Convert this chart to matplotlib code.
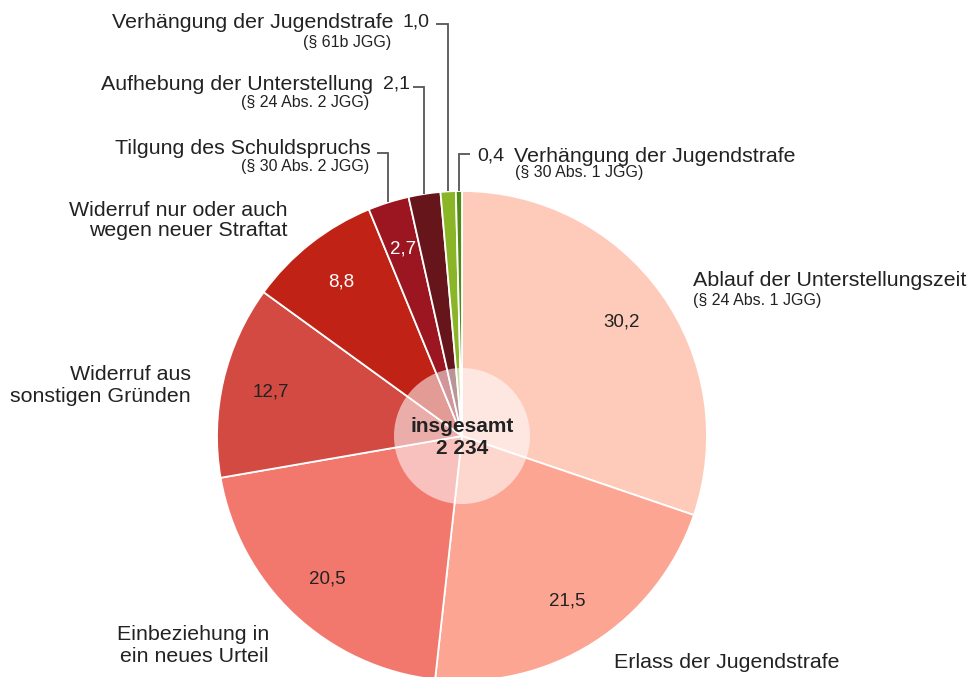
import numpy as np
import matplotlib.pyplot as plt

plt.rcParams['font.family'] = ['Liberation Sans', 'DejaVu Sans']

# data (percent, clockwise from 12 o'clock)
labels = ['Ablauf der Unterstellungszeit', 'Erlass der Jugendstrafe',
          'Einbeziehung in\nein neues Urteil', 'Widerruf aus\nsonstigen Gründen',
          'Widerruf nur oder auch\nwegen neuer Straftat', 'Tilgung des Schuldspruchs',
          'Aufhebung der Unterstellung', 'Verhängung der Jugendstrafe',
          'Verhängung der Jugendstrafe']
subs = ['(§ 24 Abs. 1 JGG)', '', '', '', '', '(§ 30 Abs. 2 JGG)',
        '(§ 24 Abs. 2 JGG)', '(§ 61b JGG)', '(§ 30 Abs. 1 JGG)']
values = [30.2, 21.5, 20.5, 12.7, 8.8, 2.7, 2.1, 1.0, 0.4]
total = '2 234'
colors = ['#FECBBB', '#FCA593', '#F2786E', '#D34A43', '#C02216',
          '#9B1620', '#66161A', '#8AB526', '#4E8C14']

W, H = 969, 677
fig = plt.figure(figsize=(W / 100, H / 100), dpi=100)
ax = fig.add_axes([0, 0, 1, 1])

def Y(y):
    return H - y

cx, cy, r = 462, Y(436), 245
wedges, _ = ax.pie(values, colors=colors, startangle=90, counterclock=False,
                   center=(cx, cy), radius=r, frame=True,
                   wedgeprops=dict(edgecolor='white', linewidth=1.3))
ax.set_xlim(0, W)
ax.set_ylim(0, H)
ax.set_aspect('equal')
ax.axis('off')

tc = '#222222'
big, small, num, side = 15.4, 11.5, 13.5, 14

# centre circle
ax.add_patch(plt.Circle((cx, cy), 68, color='white', alpha=0.55, lw=0, zorder=5))
ax.text(cx, Y(427), 'insgesamt', ha='center', va='center', fontsize=15,
        fontweight='bold', color=tc, zorder=6)
ax.text(cx, Y(449), total, ha='center', va='center', fontsize=15,
        fontweight='bold', color=tc, zorder=6)

def fmt(v):
    return f'{v:.1f}'.replace('.', ',')

def mid(i):
    w = wedges[i]
    return np.deg2rad((w.theta1 + w.theta2) / 2)

# value labels inside wedges
for i, v in enumerate(values[:6]):
    a = mid(i)
    c = 'white' if i >= 4 else tc
    ax.text(cx + 0.8 * r * np.cos(a), cy + 0.8 * r * np.sin(a), fmt(v),
            ha='center', va='center', fontsize=num, color=c)

def lines(x, ys, text, ha, size=big):
    for y, t in zip(ys, text.split('\n')):
        ax.text(x, Y(y), t, ha=ha, va='center', fontsize=size, color=tc)

# category labels of the big slices
lines(693, [281], labels[0], 'left')
lines(693, [301], subs[0], 'left', small)
lines(614, [663], labels[1], 'left')
lines(269, [635, 657], labels[2], 'right')
lines(191, [375, 396], labels[3], 'right')
lines(288, [210, 231], labels[4], 'right')

# small slices with leader lines
lc = '#555555'
def leader(i, xs, y):
    a = mid(i)
    xe = cx + r * np.cos(a)
    ye = cy + r * np.sin(a)
    ax.plot([xs, xe, xe], [Y(y), Y(y), ye], color=lc, lw=1.3,
            solid_joinstyle='miter', solid_capstyle='butt')

# Tilgung (value shown inside the slice)
lines(371, [149], labels[5], 'right')
lines(369, [167], subs[5], 'right', small)
leader(5, 377, 153)

# Aufhebung
lines(373, [84], labels[6], 'right')
lines(369, [102], subs[6], 'right', small)
ax.text(383, Y(84), fmt(values[6]), ha='left', va='center', fontsize=side, color=tc)
leader(6, 413, 87)

# Verhängung (§ 61b)
lines(394, [22], labels[7], 'right')
lines(391, [42], subs[7], 'right', small)
ax.text(403, Y(22), fmt(values[7]), ha='left', va='center', fontsize=side, color=tc)
leader(7, 436, 24)

# Verhängung (§ 30 Abs. 1)
ax.text(477, Y(156), fmt(values[8]), ha='left', va='center', fontsize=side, color=tc)
lines(514, [156], labels[8], 'left')
lines(515, [173], subs[8], 'left', small)
leader(8, 470, 154)

fig.savefig('out.png', dpi=100)
